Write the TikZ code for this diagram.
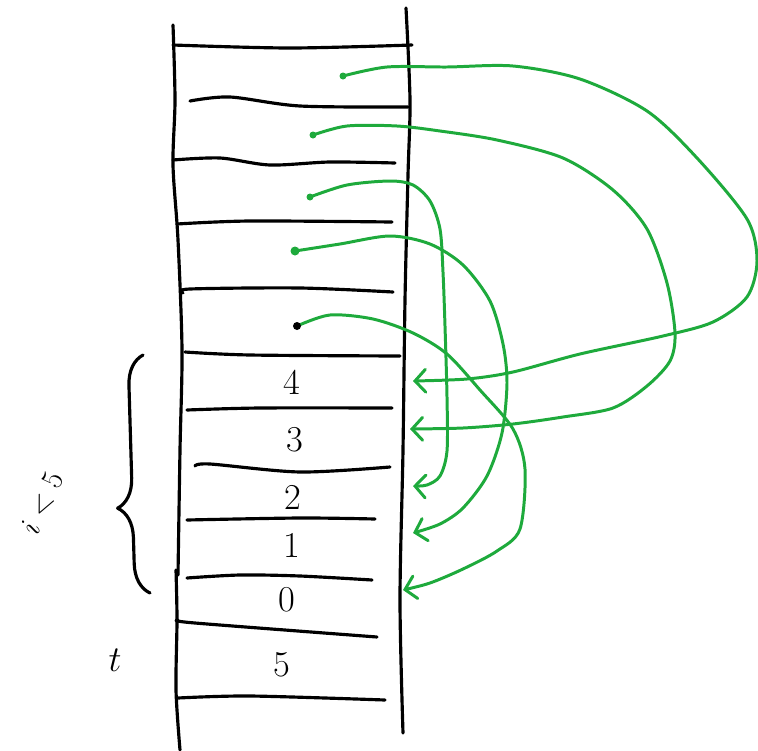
\documentclass[tikz,border=0pt]{standalone}
\usepackage{amsmath, amssymb}
\usepackage{tikz}
\usetikzlibrary{arrows.meta, decorations.pathreplacing}
\usepackage{color}
\definecolor{pengreen}{RGB}{30,170,60}

\begin{document}
\begin{tikzpicture}[x=0.02cm, y=-0.02cm,
  pen/.style={line width=1.8pt, line cap=round, line join=round},
  ptr/.style={line width=1.7pt, line cap=round, pengreen, -{Straight Barb[length=6pt,width=13pt,line cap=round]}},
  cell/.style={font=\huge, inner sep=0pt}]
\useasboundingbox (0,0) rectangle (758,751);

% the two sides of the stack
\draw [pen] plot [smooth] coordinates {(173,25) (175,100) (173,165) (178,240) (182,350) (180,450) (178,575)};
\draw [pen] plot [smooth] coordinates {(176,570) (177,620) (176,690) (180,750)};
\draw [pen] plot [smooth] coordinates {(406,8) (410,100) (408,175) (405,300) (403,450) (400,600) (403,733)};

% cell borders
\draw [pen] plot [smooth] coordinates {(173,45) (290,48) (412,45)};
\draw [pen] plot [smooth] coordinates {(190,101) (230,97) (300,106) (408,107)};
\draw [pen] plot [smooth] coordinates {(173,160) (220,158) (270,165) (330,162) (395,163)};
\draw [pen] plot [smooth] coordinates {(177,224) (250,221) (392,222)};
\draw [pen] plot [smooth] coordinates {(183,293) (190,289) (300,288) (393,292)};
\draw [pen] plot [smooth] coordinates {(185,352) (250,355) (400,356)};
\draw [pen] plot [smooth] coordinates {(187,410) (260,408) (392,408)};
\draw [pen] plot [smooth] coordinates {(195,466) (210,464) (300,472) (390,467)};
\draw [pen] plot [smooth] coordinates {(187,520) (300,518) (375,519)};
\draw [pen] plot [smooth] coordinates {(187,578) (240,575) (300,576) (372,580)};
\draw [pen] plot [smooth] coordinates {(178,620) (195,623) (377,637)};
\draw [pen] plot [smooth] coordinates {(178,698) (250,696) (385,700)};

\node (c4) [cell] at (292,382) {4};
\node (c3) [cell] at (295,440) {3};
\node (c2) [cell] at (293,497) {2};
\node (c1) [cell] at (292,545) {1};
\node (c0) [cell] at (287,600) {0};
\node (c5) [cell] at (282,665) {5};

% % % % % % % % % % % % % % % % % % % % % % % % % %

\draw [pen, decorate, decoration={brace, amplitude=17pt, aspect=0.36}] (150,593) -- (143,355);
\node (bound) [rotate=65, font=\LARGE, inner sep=1pt] at (42,503) {$i<5$};
\node (top) [font=\huge] at (115,660) {$t$};

% % % % % % % % % % % % % % % % % % % % % % % % % %

\coordinate (s4) at (343,76);
\coordinate (s3) at (313,135);
\coordinate (s2) at (310,197);
\coordinate (s1) at (295,251);
\coordinate (s0) at (297,326);

\coordinate (t4) at (413,381);
\coordinate (t3) at (410,429);
\coordinate (t2) at (413,486);
\coordinate (t1) at (413,533);
\coordinate (t0) at (403,590);

\draw [ptr] plot [smooth] coordinates {(s4) (387,67) (447,67) (513,66) (580,79) (647,111) (697,158) (747,219) (757,261) (747,297) (713,322) (663,336) (580,354) (513,372) (467,379) (t4)};
\draw [ptr] plot [smooth] coordinates {(s3) (347,126) (397,126) (440,131) (497,140) (563,158) (613,190) (647,229) (667,283) (675,333) (670,361) (647,386) (613,408) (563,417) (513,424) (463,428) (t3)};
\draw [ptr] plot [smooth] coordinates {(s2) (347,185) (390,181) (413,185) (430,201) (440,229) (443,272) (445,326) (447,397) (447,451) (440,476) (427,485) (t2)};
\draw [ptr] plot [smooth] coordinates {(s1) (340,244) (390,236) (430,244) (463,265) (490,301) (503,344) (507,383) (502,433) (487,476) (463,508) (440,524) (t1)};
\draw [ptr] plot [smooth] coordinates {(s0) (330,315) (373,319) (413,333) (447,354) (480,390) (513,429) (525,469) (520,529) (497,551) (463,569) (430,583) (t0)};

\fill [pengreen] (s4) circle [radius=3.5];
\fill [pengreen] (s3) circle [radius=3.5];
\fill [pengreen] (s2) circle [radius=3.5];
\fill [pengreen] (s1) circle [radius=4.5];
\fill (s0) circle [radius=4];
\end{tikzpicture}
\end{document}
